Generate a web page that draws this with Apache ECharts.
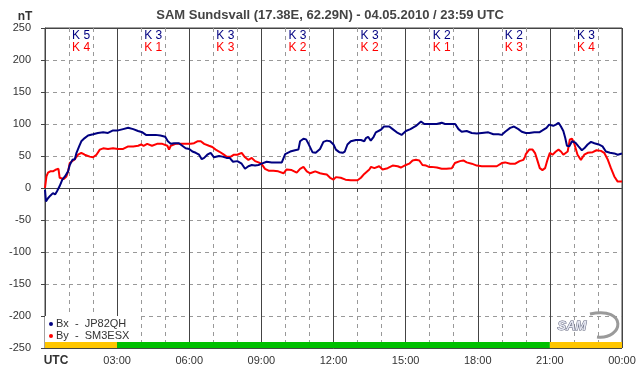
<!DOCTYPE html>
<html>
<head>
<meta charset="utf-8">
<title>SAM Sundsvall</title>
<script src="https://cdn.jsdelivr.net/npm/echarts@6/dist/echarts.min.js"></script>
<style>
  html, body { margin: 0; padding: 0; background: #fff; }
  #chart { width: 642px; height: 376px; }
</style>
</head>
<body>
<div id="chart"></div>
<script>
// Bx (JP82QH) - hours UTC / nT
const bxHours = [0, 0.04, 0.125, 0.22, 0.33, 0.42, 0.5, 0.61, 0.72, 0.83, 0.96, 1.03, 1.14, 1.24, 1.31, 1.42, 1.51, 1.65, 1.79, 2.0,
  2.2, 2.42, 2.62, 2.83, 3.04, 3.25, 3.46, 3.67, 3.87, 4.05, 4.2, 4.4, 4.6, 4.8, 5.0, 5.11, 5.23, 5.37, 5.57, 5.71,
  5.85, 6.0, 6.13, 6.27, 6.41, 6.52, 6.62, 6.75, 6.89, 7.03, 7.24, 7.38, 7.55, 7.68, 7.82, 8.0, 8.18, 8.32, 8.46, 8.6,
  8.74, 8.88, 9.01, 9.22, 9.43, 9.64, 9.85, 9.99, 10.2, 10.4, 10.54, 10.61, 10.75, 10.86, 10.96, 11.125, 11.26, 11.44, 11.58, 11.72,
  11.86, 12.0, 12.1, 12.24, 12.38, 12.47, 12.58, 12.72, 12.93, 13.14, 13.28, 13.35, 13.44, 13.55, 13.67, 13.76, 13.97, 14.1, 14.32, 14.46,
  14.67, 14.83, 15.01, 15.2, 15.43, 15.64, 15.78, 16.08, 16.29, 16.5, 16.64, 16.85, 17.06, 17.2, 17.33, 17.54, 17.75, 17.96, 18.17, 18.44,
  18.65, 18.86, 19.0, 19.14, 19.35, 19.51, 19.69, 19.83, 20.0, 20.14, 20.35, 20.56, 20.69, 20.86, 20.97, 21.04, 21.14, 21.25, 21.36, 21.46,
  21.56, 21.64, 21.71, 21.81, 21.92, 22.06, 22.19, 22.33, 22.43, 22.57, 22.71, 22.85, 23.03, 23.19, 23.33, 23.5, 23.68, 23.82, 24.0];
const bxValues = [-3, -21, -16, -12, -8, -10, -5, 3, 13, 18, 26, 36, 44, 45, 55, 65, 73, 78, 82, 84,
  86, 87, 86, 90, 90, 92, 94, 92, 89, 87, 83, 83, 83, 82, 80, 73, 69, 70, 70, 66,
  62, 61, 57, 55, 52, 45, 47, 52, 55, 48, 50, 49, 47, 47, 41, 42, 38, 30, 34, 36,
  35, 36, 38, 41, 40, 40, 40, 53, 57, 59, 60, 73, 77, 76, 69, 56, 55, 61, 72, 74,
  73, 68, 60, 56, 55, 57, 68, 73, 75, 75, 73, 78, 80, 74, 80, 87, 91, 96, 96, 92,
  86, 83, 89, 92, 97, 104, 100, 100, 100, 102, 100, 100, 100, 92, 88, 89, 86, 85, 86, 87,
  84, 84, 83, 88, 94, 96, 92, 88, 86, 86, 87, 87, 90, 94, 99, 102, 97, 99, 102, 96,
  89, 78, 66, 65, 73, 71, 65, 59, 62, 68, 72, 70, 68, 65, 57, 55, 54, 52, 54];

// By (SM3ESX)
const byHours = [0, 0.06, 0.125, 0.22, 0.33, 0.47, 0.56, 0.61, 0.68, 0.78, 0.89, 0.96, 1.03, 1.1, 1.24, 1.375, 1.51, 1.65, 1.86, 2.0,
  2.14, 2.28, 2.42, 2.62, 2.83, 3.04, 3.25, 3.46, 3.67, 3.875, 4.0, 4.1, 4.25, 4.45, 4.66, 4.88, 5.09, 5.16, 5.23, 5.43,
  5.64, 5.85, 6.06, 6.2, 6.34, 6.48, 6.62, 6.82, 6.96, 7.1, 7.24, 7.41, 7.55, 7.73, 7.86, 8.0, 8.18, 8.32, 8.46, 8.6,
  8.74, 8.88, 9.0, 9.15, 9.3, 9.5, 9.7, 9.92, 10.05, 10.26, 10.47, 10.61, 10.75, 10.89, 11.03, 11.24, 11.44, 11.58, 11.72, 11.86,
  12.0, 12.1, 12.3, 12.5, 12.72, 13.0, 13.14, 13.28, 13.49, 13.56, 13.7, 13.9, 14.04, 14.25, 14.46, 14.67, 14.8, 15.01, 15.15, 15.29,
  15.43, 15.57, 15.7, 15.85, 15.97, 16.08, 16.3, 16.5, 16.7, 16.92, 17.05, 17.26, 17.4, 17.54, 17.75, 17.96, 18.17, 18.58, 18.79, 19.0,
  19.14, 19.35, 19.56, 19.74, 19.9, 19.97, 20.0, 20.14, 20.28, 20.39, 20.49, 20.58, 20.69, 20.8, 20.9, 21.0, 21.11, 21.25, 21.36, 21.46,
  21.56, 21.64, 21.74, 21.83, 21.92, 22.01, 22.15, 22.29, 22.43, 22.57, 22.78, 22.94, 23.125, 23.26, 23.4, 23.54, 23.68, 23.82, 24.0];
const byValues = [0, 18, 24, 26, 26, 29, 30, 16, 13, 14, 18, 26, 39, 42, 45, 52, 55, 52, 49, 48,
  52, 60, 62, 61, 62, 61, 61, 65, 65, 66, 68, 66, 69, 66, 69, 69, 66, 60, 66, 69,
  69, 69, 69, 70, 73, 73, 69, 66, 64, 60, 57, 53, 49, 49, 52, 52, 55, 48, 44, 47,
  42, 40, 38, 30, 27, 27, 26, 23, 29, 28, 24, 30, 33, 26, 23, 26, 23, 22, 21, 16,
  13, 17, 16, 13, 12, 12, 16, 22, 29, 33, 31, 34, 29, 31, 35, 34, 32, 36, 38, 43,
  44, 43, 36, 35, 33, 33, 32, 30, 30, 31, 39, 42, 43, 40, 38, 35, 34, 34, 34, 39,
  40, 38, 38, 42, 44, 49, 53, 60, 60, 54, 42, 31, 28, 31, 44, 55, 52, 57, 60, 57,
  52, 49, 57, 76, 77, 70, 52, 44, 52, 55, 56, 59, 58, 55, 45, 31, 18, 10, 10];

// K-Index pro 3h-Block
const kBlockCenters = [1.5, 4.5, 7.5, 10.5, 13.5, 16.5, 19.5, 22.5];
const kBx = [5, 3, 3, 3, 3, 2, 2, 3];
const kBy = [4, 1, 3, 2, 2, 1, 3, 4];

// Statusbalken unten
const stripeStarts = [0, 3, 21];
const stripeEnds = [3, 21, 24];
const stripeColors = ['#ffc600', '#00c000', '#ffc600'];

const timeTicks = [0, 3, 6, 9, 12, 15, 18, 21, 24];
const timeLabels = ['UTC', '03:00', '06:00', '09:00', '12:00', '15:00', '18:00', '21:00', '00:00'];

const FONT = '"Liberation Sans", Arial, sans-serif';
const zip = (a, b) => a.map((v, i) => [v, b[i]]);

const chart = echarts.init(document.getElementById('chart'), null, { renderer: 'canvas' });

const option = {
  animation: false,
  backgroundColor: '#fff',
  textStyle: { fontFamily: FONT },
  title: [{
    text: 'SAM Sundsvall (17.38E, 62.29N) - 04.05.2010 / 23:59 UTC',
    left: 325, top: 4, textAlign: 'center',
    textStyle: { fontSize: 13, fontWeight: 'bold', color: '#444', fontFamily: FONT }
  }, {
    text: 'nT', left: 20, top: 6, textAlign: 'center',
    textStyle: { fontSize: 12, fontWeight: 'bold', color: '#333', fontFamily: FONT }
  }],
  grid: { left: 45, right: 20, top: 28, bottom: 28, show: true, borderColor: '#444', borderWidth: 1 },
  legend: {
    data: ['Bx  -  JP82QH', 'By  -  SM3ESX'],
    orient: 'vertical', left: 45, top: 316,
    padding: [2, 10, 0, 4], itemGap: 0,
    itemWidth: 4, itemHeight: 4, icon: 'circle',
    backgroundColor: '#fff',
    textStyle: { fontSize: 11, color: '#333', lineHeight: 12, fontFamily: FONT, padding: [0, 0, 0, -2] }
  },
  xAxis: [{
    type: 'value', min: 0, max: 24, interval: 1,
    axisLine: { lineStyle: { color: '#444' } },
    axisTick: { show: true, length: 4, lineStyle: { color: '#444' } },
    axisLabel: {
      margin: 7, fontSize: 11, color: '#333',
      formatter: v => {
        const i = timeTicks.indexOf(v);
        if (i < 0) return '';
        return i === 0 ? '{u|' + timeLabels[i] + '}' : timeLabels[i];
      },
      rich: { u: { fontWeight: 'bold', fontSize: 12, color: '#333', padding: [0, 0, 0, 22], fontFamily: FONT } }
    },
    splitLine: { show: true, lineStyle: { color: '#999', type: [4, 4] } }
  }, {
    // durchgezogene Linien alle 3 Stunden
    type: 'value', min: 0, max: 24, interval: 3, position: 'top',
    axisLine: { show: false }, axisTick: { show: false }, axisLabel: { show: false },
    splitLine: { show: true, lineStyle: { color: '#444' } }
  }],
  yAxis: [{
    type: 'value', min: -250, max: 250, interval: 50,
    axisLine: { show: true, lineStyle: { color: '#444' } },
    axisTick: { show: true, length: 4, lineStyle: { color: '#444' } },
    axisLabel: { margin: 14, fontSize: 11, color: '#333' },
    splitLine: { show: true, lineStyle: { color: '#999', type: [4, 4] } }
  }, {
    // Nulllinie
    type: 'value', min: -250, max: 250, interval: 250, position: 'right',
    axisLine: { show: false }, axisTick: { show: false }, axisLabel: { show: false },
    splitLine: { show: true, lineStyle: { color: '#444' } }
  }],
  series: [{
    type: 'custom', name: 'stripe', z: 1, silent: true,
    data: stripeStarts.map((s, i) => [s, stripeEnds[i]]),
    renderItem: (params, api) => {
      const p0 = api.coord([api.value(0), -250]);
      const p1 = api.coord([api.value(1), -250]);
      return {
        type: 'rect',
        shape: { x: p0[0], y: p0[1] - 6, width: p1[0] - p0[0], height: 6 },
        style: { fill: stripeColors[params.dataIndex] }
      };
    }
  }, {
    type: 'line', name: 'Bx  -  JP82QH', z: 3,
    data: zip(bxHours, bxValues),
    showSymbol: false, symbol: 'circle',
    itemStyle: { color: '#000080' },
    lineStyle: { color: '#000080', width: 2 }
  }, {
    type: 'line', name: 'By  -  SM3ESX', z: 2,
    data: zip(byHours, byValues),
    showSymbol: false, symbol: 'circle',
    itemStyle: { color: '#ff0000' },
    lineStyle: { color: '#ff0000', width: 2 }
  }, {
    type: 'custom', name: 'kindex', z: 5, silent: true,
    data: kBlockCenters.map((c, i) => [c, kBx[i], kBy[i]]),
    renderItem: (params, api) => {
      const x = api.coord([api.value(0), 0])[0];
      const top = params.coordSys.y;
      return {
        type: 'group',
        children: [{
          type: 'text',
          style: { text: 'K ' + api.value(1), x: x, y: top + 8, fill: '#000080',
            font: '12px ' + FONT, align: 'center', verticalAlign: 'middle' }
        }, {
          type: 'text',
          style: { text: 'K ' + api.value(2), x: x, y: top + 20, fill: '#ff0000',
            font: '12px ' + FONT, align: 'center', verticalAlign: 'middle' }
        }]
      };
    }
  }],
  graphic: [{
    // SAM Logo
    type: 'bezierCurve', silent: true, z: 10,
    shape: { x1: 590, y1: 314, cpx1: 628, cpy1: 306, cpx2: 624, cpy2: 340, x2: 597, y2: 337 },
    style: { stroke: '#9a9a9a', lineWidth: 3, fill: null }
  }, {
    type: 'text', left: 557, top: 319, silent: true, z: 11,
    style: { text: 'SAM', font: 'italic bold 13px ' + FONT, fill: '#e4e6f0', stroke: '#5a5f78', lineWidth: 1 }
  }]
};

chart.setOption(option);
</script>
</body>
</html>
